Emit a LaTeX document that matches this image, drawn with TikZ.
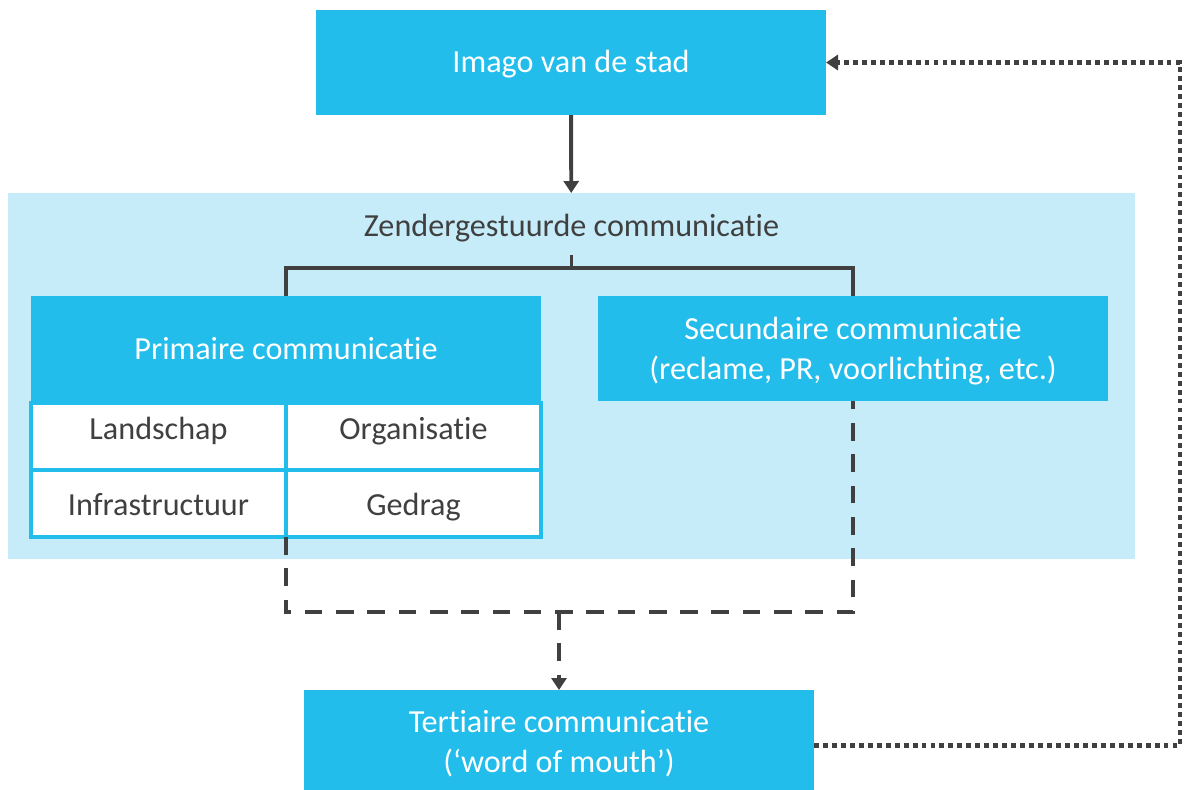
\documentclass[tikz,border=0pt]{standalone}
\usepackage{fontspec}
\setmainfont[Ligatures=NoCommon]{Carlito}
\usetikzlibrary{positioning,arrows.meta,calc}
\definecolor{boxcyan}{RGB}{35,189,235}
\definecolor{zonelight}{RGB}{198,236,249}
\definecolor{darkline}{RGB}{64,64,64}

\begin{document}
\begin{tikzpicture}[
    every node/.style={font=\fontsize{18.3}{23}\selectfont, outer sep=0pt},
    mainbox/.style={rectangle, fill=boxcyan, text=white, minimum width=10.2cm,
                    minimum height=2.1cm, align=center, inner sep=0pt},
    oneline/.style={text height=15.6pt, text depth=4pt},
    zone/.style={rectangle, fill=zonelight, minimum width=22.54cm, minimum height=7.32cm},
    cell/.style={rectangle, draw=boxcyan, line width=2.2pt, fill=white, text=darkline,
                 minimum width=5.1cm, minimum height=1.34cm, anchor=north west},
    upperrow/.style={cell, text height=10pt, text depth=7pt},
    lowerrow/.style={cell, text height=16pt, text depth=2.2pt},
    arrow/.style={-{Triangle[length=0.24cm,width=0.3cm]}, line width=2.2pt, draw=darkline},
    link/.style={line width=2.2pt, draw=darkline},
    dashlink/.style={line width=2.2pt, draw=darkline, dash pattern=on 10pt off 7.8pt},
    feedback/.style={-{Triangle[length=0.24cm,width=0.3cm]}, line width=2.4pt, draw=darkline,
                     dash pattern=on 2.8pt off 2.3pt}
]
\useasboundingbox (0,0) rectangle (23.74,-15.78);

\node[mainbox, oneline] (imago) at (11.42,-1.25) {Imago van de stad};
\node[zone, below=1.56cm of imago, xshift=0.01cm] (zone) {};
\node[text=darkline, oneline] (ztitle) at ([yshift=-0.66cm]zone.north) {Zendergestuurde communicatie};

% primaire communicatie with its four cells
\node[mainbox, oneline, anchor=north west, minimum height=2.14cm] (prim) at ([xshift=0.46cm,yshift=-2.06cm]zone.north west) {Primaire communicatie};
\node[upperrow] (landschap) at (prim.south west) {Landschap};
\node[upperrow] (organisatie) at (landschap.north east) {Organisatie};
\node[lowerrow] (infra) at (landschap.south west) {Infrastructuur};
\node[lowerrow] (gedrag) at (infra.north east) {Gedrag};

\node[mainbox, anchor=north west, text height=39.4pt, text depth=4pt] (sec) at ([xshift=1.14cm]prim.north east) {Secundaire communicatie\\(reclame, PR, voorlichting, etc.)};
\node[mainbox, below=2.62cm of zone, xshift=-0.25cm, minimum height=2.22cm, text height=34.8pt, text depth=4pt] (tert) {Tertiaire communicatie\\(‘word of mouth’)};

\coordinate[above=1.56cm of tert] (merge);
\coordinate[below=0.84cm of ztitle.center] (split);

\draw[arrow] (imago) -- (zone);
\draw[link] ([yshift=-0.58cm]ztitle.center) -- (split);
\draw[link] (prim.north) |- (split) -| (sec.north);
\draw[dashlink] (infra.south east) |- (merge) -| (sec.south);
\draw[dashlink, arrow] (merge) -- (tert);
\draw[feedback] (tert.east) -- ++(7.32,0) |- (imago.east);

\end{tikzpicture}
\end{document}
